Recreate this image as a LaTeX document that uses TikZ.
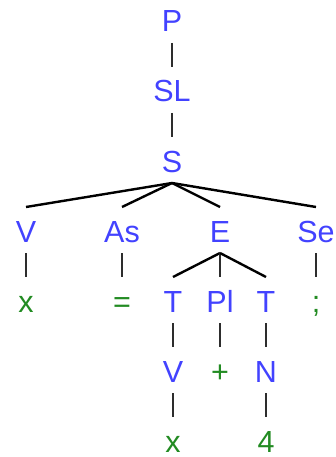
\documentclass[tikz,border=0pt]{standalone}
\usepackage{fontspec}
\setmainfont{Liberation Sans}
\usetikzlibrary{calc}
\definecolor{ntcol}{RGB}{66,66,255}
\definecolor{tcol}{RGB}{34,139,34}
\definecolor{stemcol}{RGB}{45,45,45}
\tikzset{
  nt/.style={anchor=base, inner sep=0pt, text=ntcol, font=\fontsize{30.5}{30.5}\selectfont},
  tm/.style={anchor=base, inner sep=0pt, text=tcol, font=\fontsize{30.5}{30.5}\selectfont},
  stem/.style={draw=stemcol, line width=2.2pt},
  fan/.style={draw=black, line width=2.4pt},
}
% parent -> child edge: starts just below the parent's baseline,
% ends above the child's cap height
\newcommand\treeedge[3]{\draw[#1] ($(#2.base)+(0,11)$) -- ($(#3.base)+(0,-35)$);}
\begin{document}
\begin{tikzpicture}[x=1pt,y=-1pt]
\useasboundingbox (0,0) rectangle (336,457);
% level 0-2
\node[nt] (P)  at (172,32)  {P};
\node[nt] (SL) at (172,102) {SL};
\node[nt] (S)  at (172,172) {S};
% level 3
\node[nt] (V1) at (26,242)  {V};
\node[nt] (As) at (122,242) {As};
\node[nt] (E)  at (220,242) {E};
\node[nt] (Se) at (316,242) {Se};
% level 4
\node[tm] (x1) at (26,312)  {x};
\node[tm] (eq) at (122,312) {=};
\node[nt] (T1) at (173,312) {T};
\node[nt] (Pl) at (220,312) {Pl};
\node[nt] (T2) at (266,312) {T};
\node[tm] (sc) at (316,312) {;};
% level 5
\node[nt] (V2) at (173,382) {V};
\node[tm] (pl) at (220,382) {+};
\node[nt] (N)  at (266,382) {N};
% level 6
\node[tm] (x2) at (173,452) {x};
\node[tm] (n4) at (266,452) {4};
% edges
\treeedge{stem}{P}{SL}
\treeedge{stem}{SL}{S}
\treeedge{fan}{S}{V1}
\treeedge{fan}{S}{As}
\treeedge{fan}{S}{E}
\treeedge{fan}{S}{Se}
\treeedge{stem}{V1}{x1}
\treeedge{stem}{As}{eq}
\treeedge{fan}{E}{T1}
\treeedge{stem}{E}{Pl}
\treeedge{fan}{E}{T2}
\treeedge{stem}{Se}{sc}
\treeedge{stem}{T1}{V2}
\treeedge{stem}{Pl}{pl}
\treeedge{stem}{T2}{N}
\treeedge{stem}{V2}{x2}
\treeedge{stem}{N}{n4}
\end{tikzpicture}
\end{document}
